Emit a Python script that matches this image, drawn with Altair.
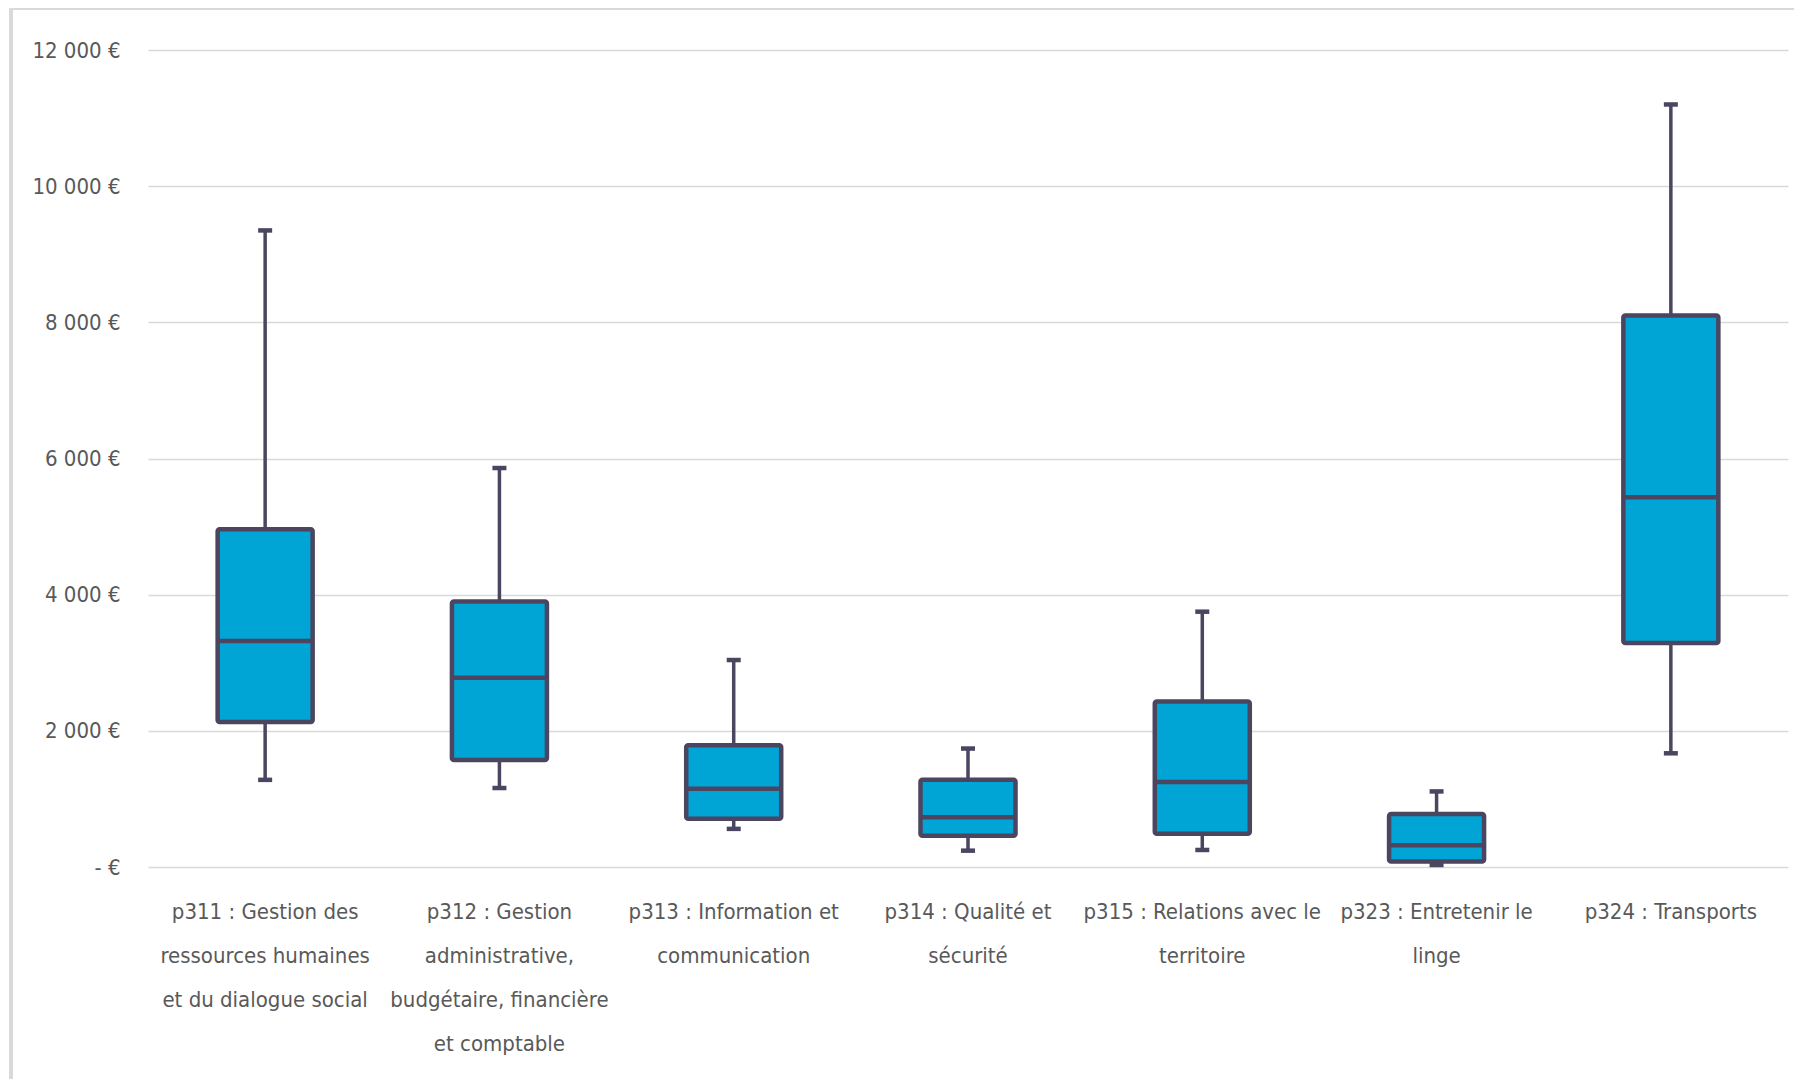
import altair as alt
import pandas as pd

categories = [
    "p311 : Gestion des|ressources humaines|et du dialogue social",
    "p312 : Gestion|administrative,|budgétaire, financière|et comptable",
    "p313 : Information et|communication",
    "p314 : Qualité et|sécurité",
    "p315 : Relations avec le|territoire",
    "p323 : Entretenir le|linge",
    "p324 : Transports",
]
mins = [1280, 1160, 560, 240, 250, 30, 1670]
q1 = [2130, 1570, 710, 460, 490, 80, 3290]
medians = [3320, 2780, 1150, 730, 1250, 320, 5430]
q3 = [4960, 3900, 1790, 1280, 2430, 780, 8100]
maxs = [9350, 5860, 3040, 1740, 3750, 1110, 11200]
y_ticks = [0, 2000, 4000, 6000, 8000, 10000, 12000]

df = pd.DataFrame({"cat": categories, "min": mins, "q1": q1, "med": medians, "q3": q3, "max": maxs})

FONT = "DejaVu Sans Condensed, sans-serif"
STROKE = "#4b4560"
FILL = "#00a5d6"

x = alt.X("cat:N", sort=categories,
          scale=alt.Scale(paddingInner=0, paddingOuter=0),
          axis=alt.Axis(title=None, labelAngle=0, labelExpr="split(datum.label, '|')",
                        labelFont=FONT, labelFontSize=22, labelColor="#595959",
                        labelLineHeight=44, labelPadding=34, ticks=False, domain=False,
                        labelLimit=300))

yscale = alt.Scale(domain=[0, 12000], nice=False, zero=True)
yaxis = alt.Axis(title=None, values=y_ticks, grid=True, gridColor="#d9d9d9", gridWidth=1.5,
                 ticks=False, domain=False, labelFont=FONT, labelFontSize=22,
                 labelColor="#595959", labelPadding=28,
                 labelExpr="datum.value == 0 ? '-  €' : replace(format(datum.value, ',.0f'), ',', ' ') + ' €'")

base = alt.Chart(df)

whisker = base.mark_rule(color=STROKE, strokeWidth=3.5).encode(
    x=x, y=alt.Y("min:Q", scale=yscale, axis=yaxis), y2="max:Q")
box = base.mark_bar(size=95, fill=FILL, stroke=STROKE, strokeWidth=4.5, cornerRadius=2).encode(
    x=x, y=alt.Y("q1:Q", scale=yscale), y2="q3:Q")
median = base.mark_tick(size=95, thickness=4.5, color=STROKE, opacity=1).encode(
    x=x, y=alt.Y("med:Q", scale=yscale))
cap_lo = base.mark_tick(size=14, thickness=4.5, color=STROKE, opacity=1).encode(
    x=x, y=alt.Y("min:Q", scale=yscale))
cap_hi = base.mark_tick(size=14, thickness=4.5, color=STROKE, opacity=1).encode(
    x=x, y=alt.Y("max:Q", scale=yscale))

frame_left = base.mark_rule(color="#d9d9d9", strokeWidth=3).encode(
    x=alt.value(-137), y=alt.value(-42), y2=alt.value(1040))
frame_top = base.mark_rule(color="#d9d9d9", strokeWidth=2).encode(
    x=alt.value(-137), x2=alt.value(1660), y=alt.value(-41))

chart = alt.layer(frame_left, frame_top, whisker, box, median, cap_lo, cap_hi).properties(
    width=1640, height=817,
    background="white",
    autosize=alt.AutoSizeParams(type="none"),
    padding={"left": 140, "top": 42, "right": 6, "bottom": 212},
).configure_view(stroke=None)

chart.save("out.html", embed_options={"renderer": "svg", "actions": False})
